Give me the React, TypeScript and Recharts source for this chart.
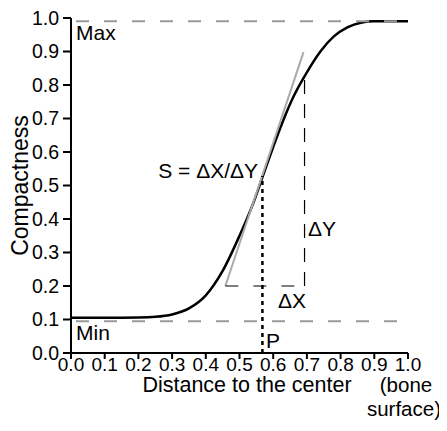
import React from "react";
import { LineChart, Line, XAxis, YAxis, ReferenceLine, ReferenceDot } from "recharts";

const xTicks = [0, 0.1, 0.2, 0.3, 0.4, 0.5, 0.6, 0.7, 0.8, 0.9, 1.0];
const yTicks = [0, 0.1, 0.2, 0.3, 0.4, 0.5, 0.6, 0.7, 0.8, 0.9, 1.0];

const curveX = [0, 0.1, 0.2, 0.25, 0.3, 0.35, 0.4, 0.45, 0.5, 0.54, 0.57, 0.6, 0.63, 0.66, 0.7, 0.74, 0.78, 0.82, 0.86, 0.9, 1.0];
const curveY = [0.105, 0.105, 0.106, 0.108, 0.115, 0.133, 0.172, 0.245, 0.35, 0.445, 0.53, 0.615, 0.695, 0.765, 0.838, 0.9, 0.945, 0.972, 0.986, 0.99, 0.99];

const maxLevel = 0.99;
const minLevel = 0.095;
const pointP = { x: 0.568, y: 0.528 };
const tangentStart = { x: 0.458, y: 0.2 };
const tangentEnd = { x: 0.69, y: 0.898 };
const deltaYx = 0.693;
const deltaYtop = 0.83;

const labelMax = { x: 0.015, y: 0.934, text: "Max" };
const labelMin = { x: 0.015, y: 0.039, text: "Min" };
const labelS = { x: 0.555, y: 0.522, text: "S = \u0394X/\u0394Y" };
const labelDY = { x: 0.703, y: 0.349, text: "\u0394Y" };
const labelDX = { x: 0.614, y: 0.134, text: "\u0394X" };
const labelP = { x: 0.579, y: 0.014, text: "P" };

const data = curveX.map((x, i) => ({ x, y: curveY[i] }));

const FONT = "'Liberation Sans', Arial, Helvetica, sans-serif";

const textLabel = (text: string, anchor: string = "start") => (props: any) => {
  const vb = props.viewBox || {};
  const cx = (vb.x ?? 0) + (vb.width ?? 0) / 2;
  const cy = (vb.y ?? 0) + (vb.height ?? 0) / 2;
  return (
    <text x={cx} y={cy} fontSize={21} fontFamily={FONT} fill="#000" textAnchor={anchor as any}>
      {text}
    </text>
  );
};

const xAxisLabel = (props: any) => {
  const vb = props.viewBox || { x: 0, y: 0, width: 0, height: 0 };
  return (
    <g fontFamily={FONT} fill="#000">
      <text x={vb.x + 176} y={vb.y + 39} textAnchor="middle" fontSize={21.5}>Distance to the center</text>
      <text x={vb.x + 335} y={vb.y + 39} textAnchor="middle" fontSize={20.5}>(bone</text>
      <text x={vb.x + 370} y={vb.y + 63} textAnchor="end" fontSize={20.5}>surface)</text>
    </g>
  );
};

const yAxisLabel = (props: any) => {
  const vb = props.viewBox || { x: 0, y: 0, width: 0, height: 0 };
  const cx = 20;
  const cy = vb.y + vb.height / 2;
  return (
    <text x={cx} y={cy} transform={`rotate(-90, ${cx}, ${cy})`} textAnchor="middle" fontFamily={FONT} fontSize={23} fill="#000">
      Compactness
    </text>
  );
};

const annotations = [labelMax, labelMin, labelS, labelDY, labelDX, labelP];

export default function App() {
  return (
    <LineChart width={439} height={415} data={data} margin={{ top: 10, right: 39, left: 0, bottom: 40 }}>
      <XAxis
        type="number"
        dataKey="x"
        domain={[0, 1]}
        ticks={xTicks}
        tickFormatter={(v: number) => v.toFixed(1)}
        axisLine={{ stroke: "#000", strokeWidth: 2 }}
        tickLine={{ stroke: "#000", strokeWidth: 2 }}
        tickSize={6}
        tickMargin={-1}
        tick={{ fill: "#000", fontSize: 19, fontFamily: FONT }}
        height={30}
        interval={0}
        label={xAxisLabel}
      />
      <YAxis
        type="number"
        domain={[0, 1]}
        ticks={yTicks}
        tickFormatter={(v: number) => v.toFixed(1)}
        axisLine={{ stroke: "#000", strokeWidth: 2 }}
        tickLine={{ stroke: "#000", strokeWidth: 2 }}
        tickSize={8}
        tickMargin={4}
        tick={{ fill: "#000", fontSize: 19.5, fontFamily: FONT }}
        width={63}
        interval={0}
        label={yAxisLabel}
      />
      <Line type="monotone" dataKey="y" stroke="#000" strokeWidth={2.5} dot={false} isAnimationActive={false} />
      <ReferenceLine y={maxLevel} stroke="#999" strokeWidth={2} strokeDasharray="13 15" strokeDashoffset={-5} />
      <ReferenceLine y={minLevel} stroke="#999" strokeWidth={2} strokeDasharray="13 15" strokeDashoffset={-5} />
      <ReferenceLine
        segment={[tangentStart, tangentEnd]}
        stroke="#aaa"
        strokeWidth={2}
        ifOverflow="visible"
      />
      <ReferenceLine
        segment={[tangentStart, { x: deltaYx, y: tangentStart.y }]}
        stroke="#000"
        strokeWidth={1.2}
        strokeDasharray="13 15"
        ifOverflow="visible"
      />
      <ReferenceLine
        segment={[{ x: deltaYx, y: tangentStart.y }, { x: deltaYx, y: deltaYtop }]}
        stroke="#000"
        strokeWidth={1.2}
        strokeDasharray="14 10"
        ifOverflow="visible"
      />
      <ReferenceLine
        segment={[{ x: pointP.x, y: 0 }, pointP]}
        stroke="#000"
        strokeWidth={2.5}
        strokeDasharray="4 4"
        ifOverflow="visible"
      />
      {annotations.map((a) => (
        <ReferenceDot
          key={a.text}
          x={a.x}
          y={a.y}
          r={0.5}
          fill="none"
          stroke="none"
          ifOverflow="visible"
          label={textLabel(a.text, a === labelS ? "end" : "start")}
        />
      ))}
    </LineChart>
  );
}
